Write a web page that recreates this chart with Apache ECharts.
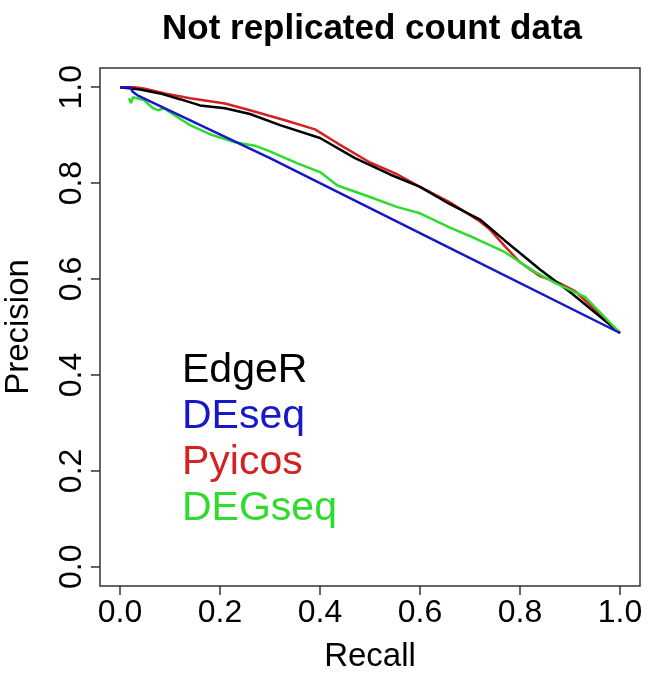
<!DOCTYPE html>
<html style="height: 100%">
  <head>
    <meta charset="UTF-8" />
    <title>ECharts</title>
    <script src="https://cdn.jsdelivr.net/npm/echarts/dist/echarts.min.js"></script>
  </head>
  <body style="height: 100%; margin: 0; background: #fff">
    <div id="main" style="width: 659px; height: 675px"></div>
    <script>
      // recall / precision pairs
      var edgeR = [
        [0, 1], [0.04, 0.995], [0.08, 0.987], [0.12, 0.975], [0.16, 0.962],
        [0.21, 0.956], [0.26, 0.944], [0.32, 0.921], [0.4, 0.894], [0.47, 0.852],
        [0.54, 0.818], [0.6, 0.792], [0.66, 0.756], [0.72, 0.724], [0.77, 0.68],
        [0.84, 0.62], [0.9, 0.573], [1, 0.4875]
      ];
      var deseq = [
        [0, 1], [0.02, 1], [0.026, 0.99], [0.035, 0.983], [0.3, 0.852],
        [0.64, 0.675], [1, 0.4875]
      ];
      var pyicos = [
        [0, 1], [0.03, 1], [0.05, 0.997], [0.09, 0.987], [0.14, 0.977],
        [0.21, 0.966], [0.26, 0.952], [0.3, 0.94], [0.33, 0.931], [0.39, 0.912],
        [0.435, 0.883], [0.5, 0.843], [0.555, 0.818], [0.6, 0.792], [0.66, 0.76],
        [0.72, 0.72], [0.74, 0.703], [0.77, 0.668], [0.8, 0.635], [0.84, 0.606],
        [0.88, 0.591], [0.91, 0.575], [1, 0.4875]
      ];
      var degseq = [
        [0.018, 0.977], [0.022, 0.967], [0.026, 0.979], [0.048, 0.973], [0.066, 0.956],
        [0.076, 0.952], [0.088, 0.956], [0.108, 0.942], [0.14, 0.921], [0.18, 0.902],
        [0.23, 0.885], [0.27, 0.878], [0.3, 0.866], [0.355, 0.841], [0.4, 0.823],
        [0.435, 0.795], [0.5, 0.771], [0.555, 0.75], [0.6, 0.737], [0.66, 0.707],
        [0.71, 0.685], [0.77, 0.656], [0.83, 0.615], [0.87, 0.592], [0.93, 0.563],
        [1, 0.4875]
      ];
      var tickValues = [0, 0.2, 0.4, 0.6, 0.8, 1];

      var names = ['EdgeR', 'DEseq', 'Pyicos', 'DEGseq'];
      var colors = {
        EdgeR: '#000000',
        DEseq: '#1818c8',
        Pyicos: '#d42222',
        DEGseq: '#2edc2e'
      };
      var lines = { EdgeR: edgeR, DEseq: deseq, Pyicos: pyicos, DEGseq: degseq };
      // drawing order, later ones on top
      var drawOrder = ['Pyicos', 'EdgeR', 'DEGseq', 'DEseq'];

      var FONT = 'Liberation Sans';
      var chart = echarts.init(document.getElementById('main'));

      function axisLabelFmt(v) {
        return v.toFixed(1);
      }

      var seriesList = drawOrder.map(function (n) {
        return {
          name: n,
          type: 'line',
          data: lines[n],
          showSymbol: false,
          silent: true,
          color: colors[n],
          lineStyle: { color: colors[n], width: 2.5 }
        };
      });

      var option = {
        animation: false,
        backgroundColor: '#fff',
        title: {
          text: 'Not replicated count data',
          left: 367,
          top: 7,
          textAlign: 'center',
          textStyle: { fontFamily: FONT, fontSize: 35, fontWeight: 'bold', color: '#000' }
        },
        legend: {
          orient: 'vertical',
          left: 176,
          top: 349,
          padding: 0,
          icon: 'none',
          itemWidth: 1,
          itemHeight: 1,
          itemGap: 3,
          selectedMode: false,
          data: names.map(function (n) {
            return { name: n, textStyle: { color: colors[n] } };
          }),
          textStyle: { fontFamily: FONT, fontSize: 41, lineHeight: 43 }
        },
        grid: {
          left: 100,
          right: 19,
          top: 68,
          bottom: 89,
          outerBoundsMode: 'none',
          show: true,
          borderColor: '#333',
          borderWidth: 1.5,
          backgroundColor: 'transparent'
        },
        xAxis: {
          type: 'value',
          min: -0.04,
          max: 1.04,
          name: 'Recall',
          nameLocation: 'middle',
          nameGap: 54,
          nameTextStyle: { fontFamily: FONT, fontSize: 33, color: '#000' },
          axisLine: { show: false, onZero: false },
          splitLine: { show: false },
          axisTick: {
            show: true,
            length: 9,
            customValues: tickValues,
            lineStyle: { color: '#333', width: 1.5 }
          },
          axisLabel: {
            customValues: tickValues,
            formatter: axisLabelFmt,
            margin: 11,
            fontFamily: FONT,
            fontSize: 32,
            color: '#000'
          }
        },
        yAxis: {
          type: 'value',
          min: -0.04,
          max: 1.04,
          name: 'Precision',
          nameLocation: 'middle',
          nameRotate: 90,
          nameGap: 65,
          nameTextStyle: { fontFamily: FONT, fontSize: 33, color: '#000' },
          axisLine: { show: false, onZero: false },
          splitLine: { show: false },
          axisTick: {
            show: true,
            length: 9,
            customValues: tickValues,
            lineStyle: { color: '#333', width: 1.5 }
          },
          axisLabel: {
            customValues: tickValues,
            formatter: axisLabelFmt,
            rotate: 90,
            margin: 12,
            fontFamily: FONT,
            fontSize: 32,
            color: '#000'
          }
        },
        series: seriesList
      };

      chart.setOption(option);
    </script>
  </body>
</html>
